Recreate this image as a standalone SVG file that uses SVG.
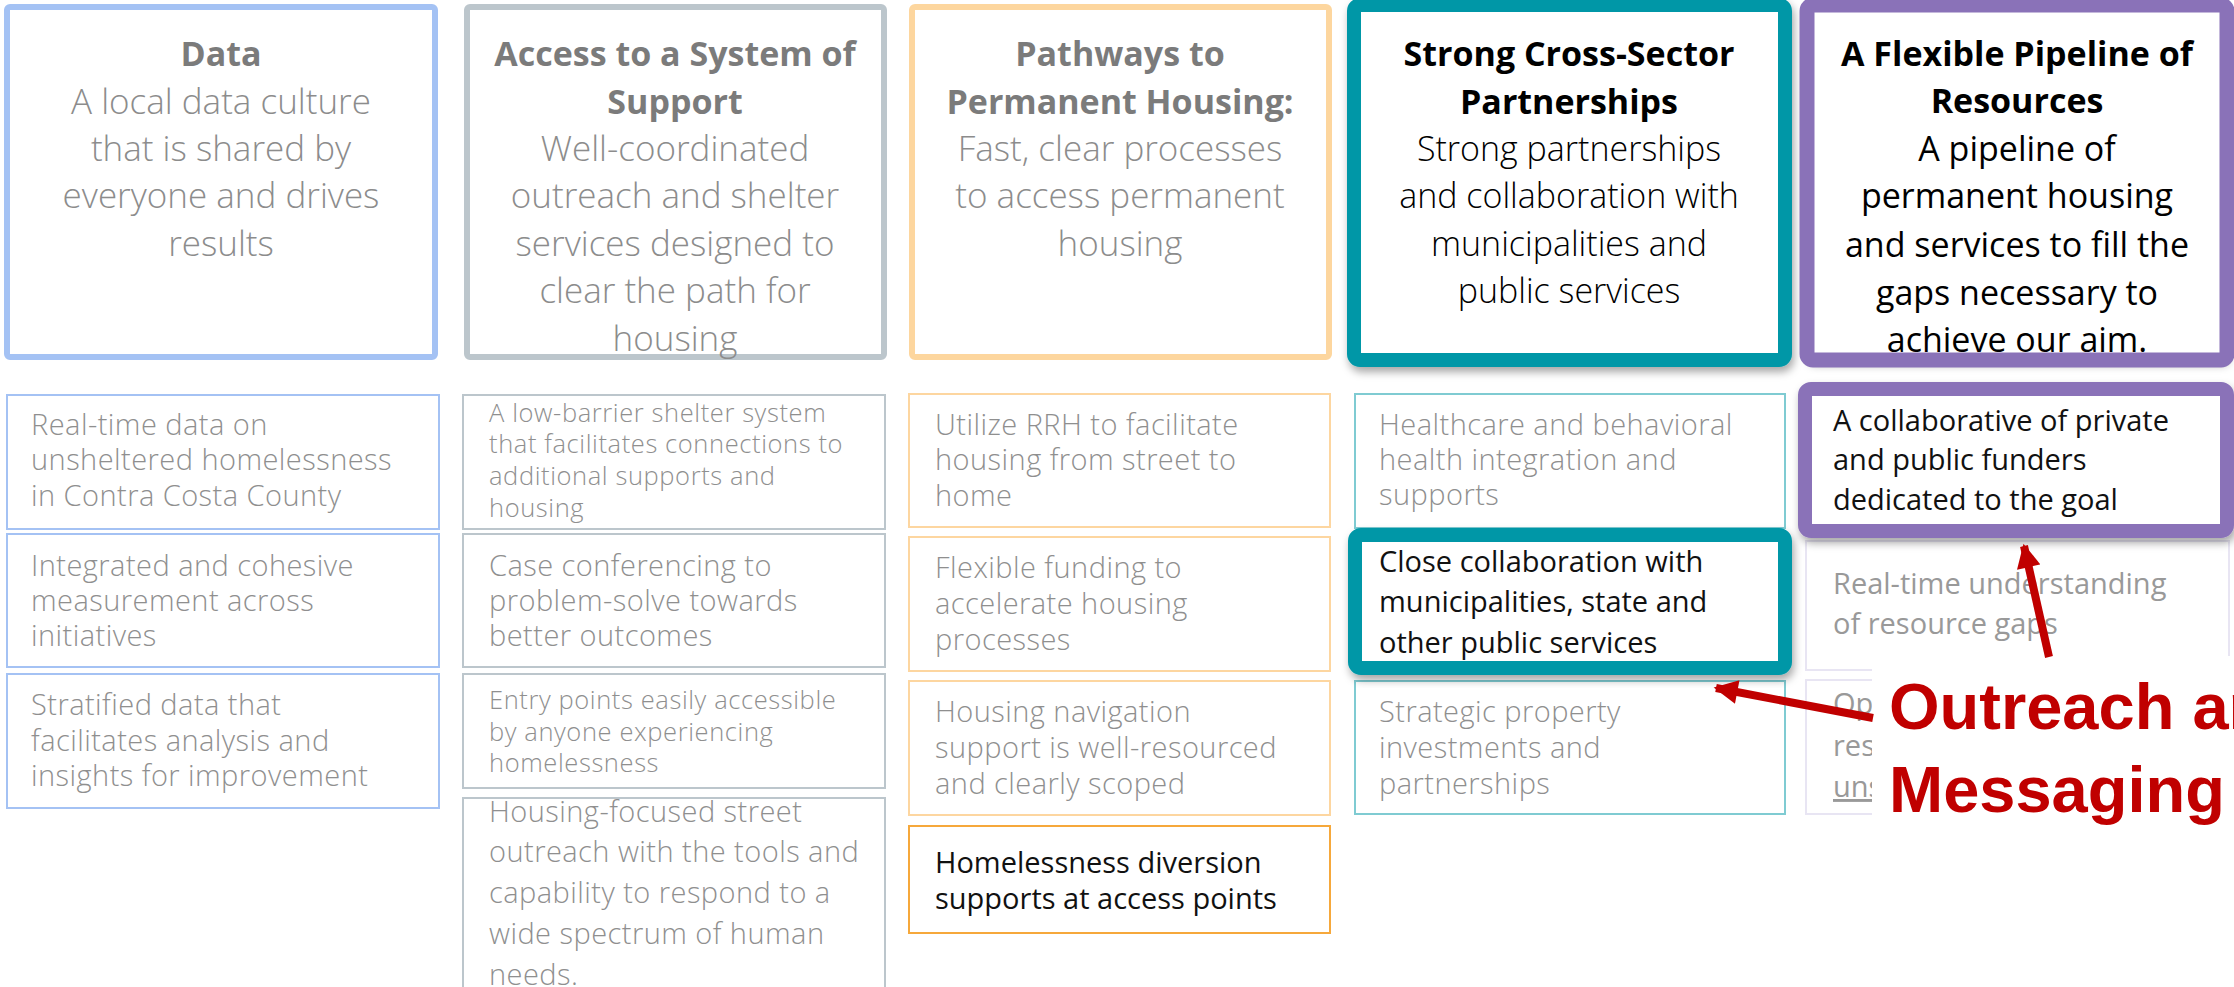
<svg xmlns="http://www.w3.org/2000/svg" width="2234" height="987" viewBox="0 0 2234 987">
<defs>
<style>
.hd{font-family:"Open Sans",Lato,"Liberation Sans",sans-serif;font-size:34px;font-weight:700;text-anchor:middle}
.bd{font-family:"Open Sans",Lato,"Liberation Sans",sans-serif;font-size:35px;font-weight:300;text-anchor:middle}
.bk{font-family:"Open Sans",Lato,"Liberation Sans",sans-serif;font-size:34px;font-weight:300;text-anchor:middle;fill:#000}
.bp{font-family:"Open Sans",Lato,"Liberation Sans",sans-serif;font-size:34px;font-weight:400;text-anchor:middle;fill:#000}
.t{font-family:"Open Sans",Lato,"Liberation Sans",sans-serif;font-size:29px;font-weight:300;letter-spacing:0.45px;fill:#8f8f8f}
.ts{font-family:"Open Sans",Lato,"Liberation Sans",sans-serif;font-size:25.5px;font-weight:300;letter-spacing:0.6px;fill:#8f8f8f}
.tk{font-family:"Open Sans",Lato,"Liberation Sans",sans-serif;font-size:29px;font-weight:400;fill:#111}
.tg{font-family:"Open Sans",Lato,"Liberation Sans",sans-serif;font-size:29px;font-weight:400;fill:#999}
.g1{fill:#7b7b7b}
.g2{fill:#8c8c8c}
.k{fill:#000}
.bx{fill:#fff;stroke-width:2}
.blue{stroke:#a4c2f4}
.grey{stroke:#bcc6cc}
.org{stroke:#fdd6a0}
.tl{stroke:#7fcbd2}
.lav{stroke:#e8e5f3}
.red{font-family:"Liberation Sans",Arial,sans-serif;font-size:65px;font-weight:700;fill:#c00000}
.arr{stroke:#c00000;stroke-width:8;fill:none}
</style>
<filter id="sh" x="-10%" y="-10%" width="120%" height="125%">
<feDropShadow dx="2" dy="5" stdDeviation="4" flood-color="#000" flood-opacity="0.35"/>
</filter>
<marker id="ah" viewBox="0 0 10 10" refX="9" refY="5" markerWidth="3.2" markerHeight="3" orient="auto" markerUnits="strokeWidth">
<path d="M0,0 L10,5 L0,10 z" fill="#c00000"/>
</marker>
</defs>
<rect width="2234" height="987" fill="#fff"/>

<!-- top row -->
<g id="top-data">
<rect x="7" y="7" width="428" height="350" rx="3" fill="#fff" stroke="#a4c2f4" stroke-width="6"/>
<text class="hd g1" x="221" y="66">Data</text>
<text class="bd g2" x="221" y="114">A local data culture</text>
<text class="bd g2" x="221" y="161">that is shared by</text>
<text class="bd g2" x="221" y="208">everyone and drives</text>
<text class="bd g2" x="221" y="256">results</text>
</g>
<g id="top-access">
<rect x="467" y="7" width="417" height="350" rx="3" fill="#fff" stroke="#bcc6cc" stroke-width="6"/>
<text class="hd g1" x="675" y="66">Access to a System of</text>
<text class="hd g1" x="675" y="114">Support</text>
<text class="bd g2" x="675" y="161">Well-coordinated</text>
<text class="bd g2" x="675" y="208">outreach and shelter</text>
<text class="bd g2" x="675" y="256">services designed to</text>
<text class="bd g2" x="675" y="303">clear the path for</text>
<text class="bd g2" x="675" y="351">housing</text>
</g>
<g id="top-pathways">
<rect x="912" y="7" width="417" height="350" rx="3" fill="#fff" stroke="#fdd69e" stroke-width="6"/>
<text class="hd g1" x="1120" y="66">Pathways to</text>
<text class="hd g1" x="1120" y="114">Permanent Housing:</text>
<text class="bd g2" x="1120" y="161">Fast, clear processes</text>
<text class="bd g2" x="1120" y="208">to access permanent</text>
<text class="bd g2" x="1120" y="256">housing</text>
</g>
<g id="top-partnerships">
<rect x="1354" y="5" width="431" height="355" rx="6" fill="#fff" stroke="#0097a7" stroke-width="14" filter="url(#sh)"/>
<text class="hd k" x="1569" y="66">Strong Cross-Sector</text>
<text class="hd k" x="1569" y="114">Partnerships</text>
<text class="bk" x="1569" y="161">Strong partnerships</text>
<text class="bk" x="1569" y="208">and collaboration with</text>
<text class="bk" x="1569" y="256">municipalities and</text>
<text class="bk" x="1569" y="303">public services</text>
</g>
<g id="top-pipeline">
<rect x="1807" y="5" width="420" height="355" rx="6" fill="#fff" stroke="none" filter="url(#sh)"/>
<text class="hd k" x="2017" y="66">A Flexible Pipeline of</text>
<text class="hd k" x="2017" y="113">Resources</text>
<text class="bp" x="2017" y="161">A pipeline of</text>
<text class="bp" x="2017" y="208">permanent housing</text>
<text class="bp" x="2017" y="257">and services to fill the</text>
<text class="bp" x="2017" y="305">gaps necessary to</text>
<text class="bp" x="2017" y="352">achieve our aim.</text>
<rect x="1807" y="5" width="420" height="355" rx="6" fill="none" stroke="#8a72b8" stroke-width="15"/>
</g>

<!-- column 1 -->
<g id="data-1"><rect class="bx blue" x="7" y="395" width="432" height="134"/>
<text class="t" x="31" y="435">Real-time data on</text><text class="t" x="31" y="470">unsheltered homelessness</text><text class="t" x="31" y="506">in Contra Costa County</text></g>
<g id="data-2"><rect class="bx blue" x="7" y="534" width="432" height="133"/>
<text class="t" x="31" y="576">Integrated and cohesive</text><text class="t" x="31" y="611">measurement across</text><text class="t" x="31" y="646">initiatives</text></g>
<g id="data-3"><rect class="bx blue" x="7" y="674" width="432" height="134"/>
<text class="t" x="31" y="715">Stratified data that</text><text class="t" x="31" y="751">facilitates analysis and</text><text class="t" x="31" y="786">insights for improvement</text></g>

<!-- column 2 -->
<g id="access-1"><rect class="bx grey" x="463" y="395" width="422" height="134"/>
<text class="ts" x="489" y="422">A low-barrier shelter system</text><text class="ts" x="489" y="453">that facilitates connections to</text><text class="ts" x="489" y="485">additional supports and</text><text class="ts" x="489" y="517">housing</text></g>
<g id="access-2"><rect class="bx grey" x="463" y="534" width="422" height="133"/>
<text class="t" x="489" y="576">Case conferencing to</text><text class="t" x="489" y="611">problem-solve towards</text><text class="t" x="489" y="646">better outcomes</text></g>
<g id="access-3"><rect class="bx grey" x="463" y="674" width="422" height="114"/>
<text class="ts" x="489" y="709">Entry points easily accessible</text><text class="ts" x="489" y="741">by anyone experiencing</text><text class="ts" x="489" y="772">homelessness</text></g>
<g id="access-4"><rect class="bx grey" x="463" y="798" width="422" height="200"/>
<text class="t" x="489" y="822">Housing-focused street</text><text class="t" x="489" y="862">outreach with the tools and</text><text class="t" x="489" y="903">capability to respond to a</text><text class="t" x="489" y="944">wide spectrum of human</text><text class="t" x="489" y="985">needs.</text></g>

<!-- column 3 -->
<g id="path-1"><rect class="bx org" x="909" y="394" width="421" height="133"/>
<text class="t" x="935" y="435">Utilize RRH to facilitate</text><text class="t" x="935" y="470">housing from street to</text><text class="t" x="935" y="506">home</text></g>
<g id="path-2"><rect class="bx org" x="909" y="537" width="421" height="134"/>
<text class="t" x="935" y="578">Flexible funding to</text><text class="t" x="935" y="614">accelerate housing</text><text class="t" x="935" y="650">processes</text></g>
<g id="path-3"><rect class="bx org" x="909" y="681" width="421" height="134"/>
<text class="t" x="935" y="722">Housing navigation</text><text class="t" x="935" y="758">support is well-resourced</text><text class="t" x="935" y="794">and clearly scoped</text></g>
<g id="path-4"><rect class="bx" x="909" y="826" width="421" height="107" stroke="#f6a83b" stroke-width="2.5"/>
<text class="tk" x="935" y="873">Homelessness diversion</text><text class="tk" x="935" y="909">supports at access points</text></g>

<!-- column 4 -->
<g id="part-1"><rect class="bx tl" x="1355" y="394" width="430" height="134"/>
<text class="t" x="1379" y="435">Healthcare and behavioral</text><text class="t" x="1379" y="470">health integration and</text><text class="t" x="1379" y="505">supports</text></g>
<g id="part-3"><rect class="bx tl" x="1355" y="681" width="430" height="133"/>
<text class="t" x="1379" y="722">Strategic property</text><text class="t" x="1379" y="758">investments and</text><text class="t" x="1379" y="794">partnerships</text></g>
<g id="part-2"><rect x="1355" y="535" width="430" height="133" rx="6" fill="#fff" stroke="#0097a7" stroke-width="14" filter="url(#sh)"/>
<text class="tk" x="1379" y="572">Close collaboration with</text><text class="tk" x="1379" y="612">municipalities, state and</text><text class="tk" x="1379" y="653">other public services</text></g>

<!-- column 5 -->
<g id="pipe-2"><rect class="bx lav" x="1806" y="541" width="423" height="129"/>
<text class="tg" x="1833" y="594">Real-time understanding</text><text class="tg" x="1833" y="634">of resource gaps</text></g>
<g id="pipe-3"><rect class="bx lav" x="1806" y="680" width="423" height="134"/>
<text class="tg" x="1833" y="714">Op</text><text class="tg" x="1833" y="756">res</text><text class="tg" x="1833" y="797" style="text-decoration:underline">uns</text></g>
<g id="pipe-1"><rect x="1805" y="389" width="422" height="142" rx="6" fill="#fff" stroke="#8a72b8" stroke-width="14" filter="url(#sh)"/>
<text class="tk" x="1833" y="431">A collaborative of private</text><text class="tk" x="1833" y="470">and public funders</text><text class="tk" x="1833" y="510">dedicated to the goal</text></g>

<!-- callout -->
<g id="outreach-label">
<rect x="1872" y="656" width="362" height="185" fill="#fff"/>
<text class="red" x="1889" y="729">Outreach and</text>
<text class="red" x="1889" y="812">Messaging</text>
</g>

<g id="connectors">
<line class="arr" x1="1873" y1="718" x2="1716" y2="688" marker-end="url(#ah)"/>
<line class="arr" x1="2049" y1="657" x2="2024" y2="546" marker-end="url(#ah)"/>
</g>
</svg>
